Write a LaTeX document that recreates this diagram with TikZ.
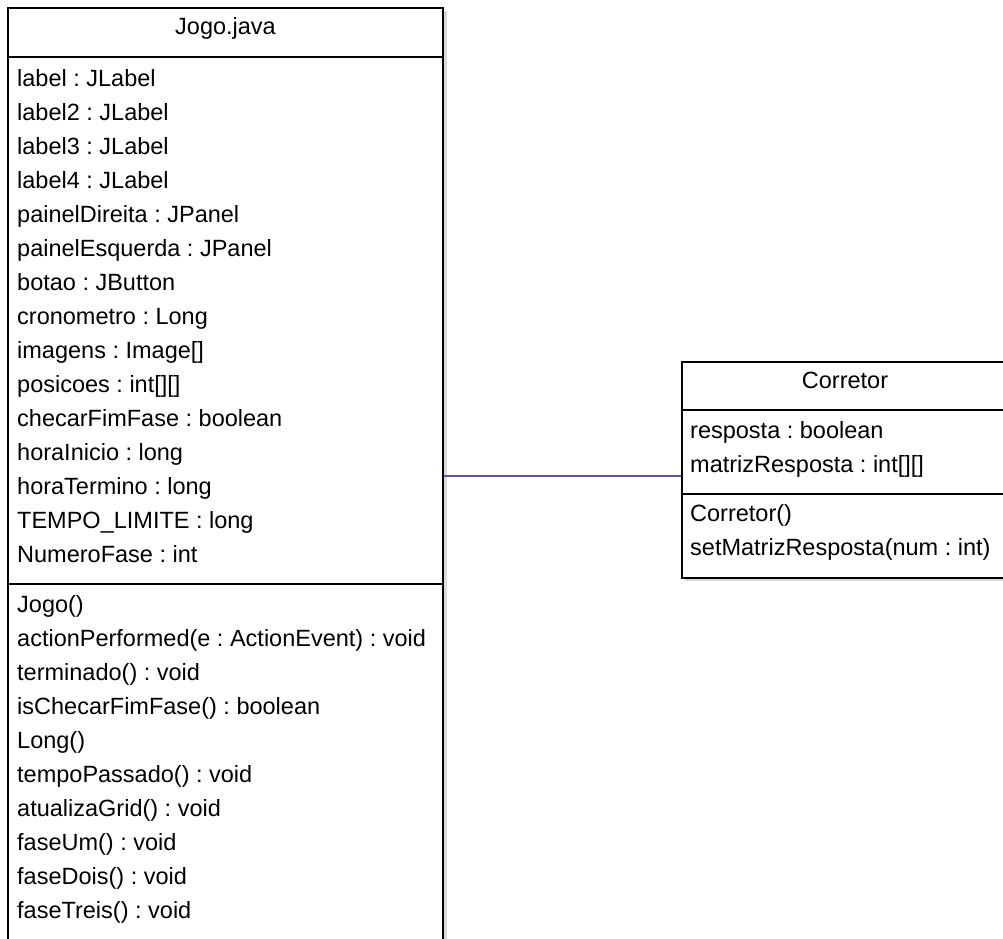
\documentclass[tikz,border=0pt]{standalone}
\usepackage{fontspec}
\setmainfont{Liberation Sans}
\frenchspacing
\begin{document}
\begin{tikzpicture}[x=1pt,y=-1pt,
  classbox/.style={draw=black, line width=1.5pt, fill=white, rectangle, inner sep=0pt},
  boxshadow/.style={fill=black!15},
  divider/.style={draw=black, line width=1.3pt},
  member/.style={anchor=base west, inner sep=0pt, text=black, font=\fontsize{23.5}{28}\selectfont},
  classtitle/.style={anchor=base, inner sep=0pt, text=black, font=\fontsize{23.5}{28}\selectfont},
  assoc/.style={draw={rgb,255:red,88;green,88;blue,178}, line width=1.5pt}]
\useasboundingbox (0,0) rectangle (1003,938);
\clip (0,0) rectangle (1003,938);
\fill[white] (0,0) rectangle (1003,938);

% drop shadows
\fill[boxshadow] (440,11) rectangle (447,968);
\fill[boxshadow] (685,365) rectangle (1011,581);

% class boxes
\node[classbox, minimum width=435pt, minimum height=960pt] (jogo) at (225.5,488) {};
\node[classbox, minimum width=326pt, minimum height=216pt] (corretor) at (845,470) {};

% compartments of Jogo.java
\draw[divider] (jogo.west |- 0,57) -- (jogo.east |- 0,57);
\draw[divider] (jogo.west |- 0,584) -- (jogo.east |- 0,584);

% compartments of Corretor
\draw[divider] (corretor.west |- 0,410) -- (corretor.east |- 0,410);
\draw[divider] (corretor.west |- 0,494) -- (corretor.east |- 0,494);

% titles
\node[classtitle] (jogoTitle) at (225.5,34) {Jogo.java};
\node[classtitle] (corretorTitle) at (845,388) {Corretor};

% attributes of Jogo.java
\foreach \txt [count=\i from 0] in {%
  label : JLabel,
  label2 : JLabel,
  label3 : JLabel,
  label4 : JLabel,
  painelDireita : JPanel,
  painelEsquerda : JPanel,
  botao : JButton,
  cronometro : Long,
  imagens : Image[],
  posicoes : int[][],
  checarFimFase : boolean,
  horaInicio : long,
  horaTermino : long,
  TEMPO\_LIMITE : long,
  NumeroFase : int}
  \node[member] (jogoAttr\i) at (17,86+34*\i) {\txt};

% operations of Jogo.java
\foreach \txt [count=\i from 0] in {%
  Jogo(),
  actionPerformed(e : ActionEvent) : void,
  terminado() : void,
  isChecarFimFase() : boolean,
  Long(),
  tempoPassado() : void,
  atualizaGrid() : void,
  faseUm() : void,
  faseDois() : void,
  faseTreis() : void}
  \node[member] (jogoOp\i) at (17,612+34*\i) {\txt};

% members of Corretor
\node[member] (corrAttr0) at (690,438) {resposta : boolean};
\node[member] (corrAttr1) at (690,472) {matrizResposta : int[][]};
\node[member] (corrOp0) at (690,521) {Corretor()};
\node[member] (corrOp1) at (690,555) {setMatrizResposta(num : int)};

% association
\coordinate (linkLevel) at (0,476);
\draw[assoc] (jogo.east |- linkLevel) -- (corretor.west |- linkLevel);
\end{tikzpicture}
\end{document}
